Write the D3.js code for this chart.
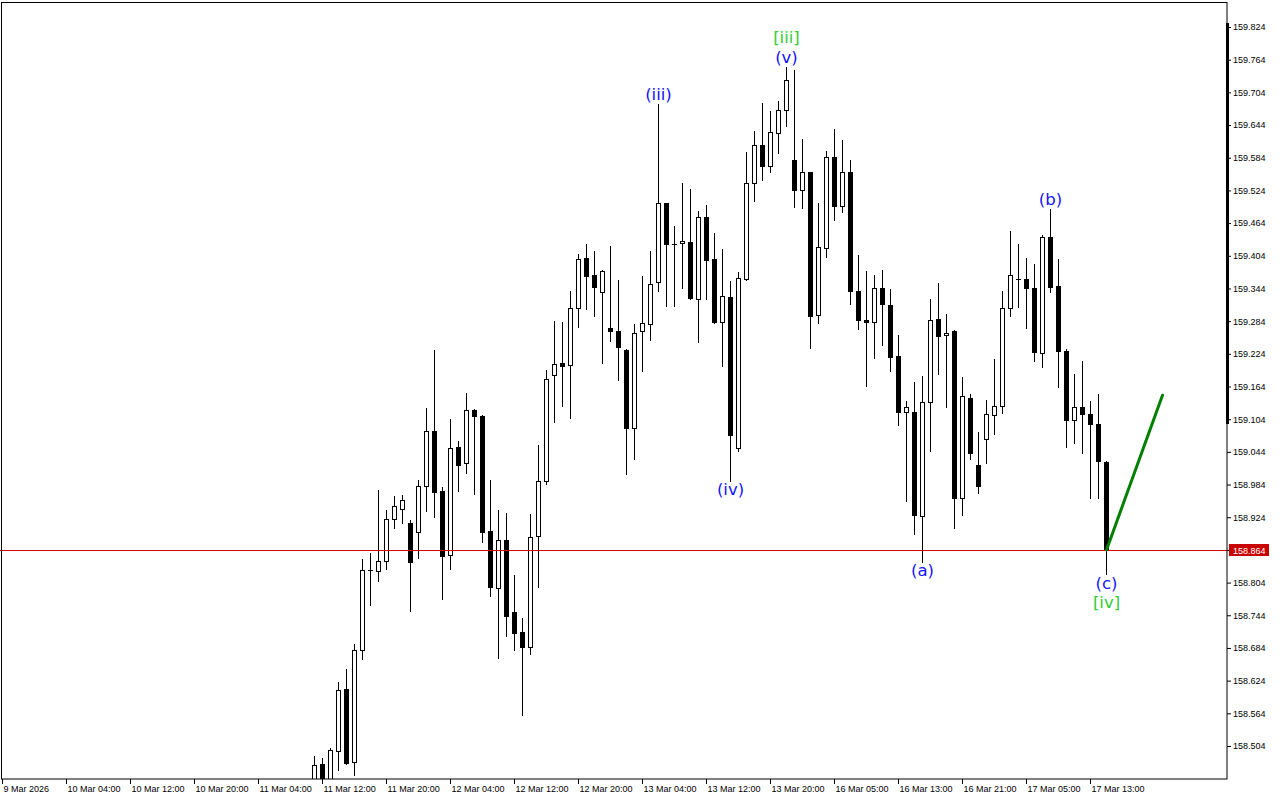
<!DOCTYPE html>
<html><head><meta charset="utf-8">
<script src="https://cdn.jsdelivr.net/npm/d3@7"></script>
<style>html,body{margin:0;padding:0;background:#fff;overflow:hidden}</style>
</head><body><svg id="c" width="1280" height="800"></svg>
<script>
// ---- DATA (H1 candles, bar index counted from 9 Mar 2026 20:00) ----
const firstBar = 39;
const opens = [158.43,158.471,158.43,158.494,158.608,158.475,158.681,158.828,158.826,158.843,
158.920,158.940,158.913,158.896,158.981,159.082,158.972,158.854,159.053,159.023,
159.120,159.109,158.898,158.794,158.882,158.750,158.713,158.685,158.889,158.990,
159.185,159.207,159.203,159.308,159.399,159.369,159.337,159.271,159.266,159.231,
159.088,159.265,159.278,159.355,159.500,159.426,159.427,159.429,159.324,159.475,
159.398,159.283,159.328,159.051,159.362,159.537,159.607,159.568,159.629,159.671,
159.580,159.524,159.557,159.295,159.418,159.585,159.495,159.557,159.339,159.287,
159.282,159.344,159.314,159.220,159.118,159.117,158.926,159.136,159.288,159.258,
159.266,158.959,159.142,159.019,159.067,159.111,159.128,159.309,159.361,159.361,
159.344,159.225,159.438,159.348,159.229,159.102,159.126,159.113,159.096,159.025];
const highs = [158.486,158.482,158.500,158.621,158.645,158.691,158.847,158.858,158.974,158.937,
158.963,158.965,158.918,158.992,159.125,159.231,158.979,159.104,159.064,159.152,
159.122,159.112,158.992,158.937,158.932,158.818,158.739,158.930,159.057,159.194,
159.285,159.282,159.339,159.408,159.426,159.413,159.378,159.422,159.360,159.233,
159.278,159.367,159.413,159.682,159.501,159.459,159.538,159.527,159.487,159.497,
159.446,159.416,159.358,159.374,159.595,159.633,159.684,159.670,159.689,159.750,
159.745,159.618,159.558,159.500,159.597,159.637,159.617,159.579,159.405,159.376,
159.369,159.378,159.343,159.259,159.137,159.172,159.183,159.325,159.354,159.297,
159.267,159.181,159.150,159.080,159.140,159.214,159.339,159.449,159.426,159.400,
159.389,159.443,159.490,159.398,159.232,159.187,159.211,159.137,159.150,159.027];
const lows = [158.40,158.42,158.42,158.46,158.471,158.45,158.664,158.763,158.807,158.829,
158.905,158.914,158.751,158.850,158.936,158.925,158.774,158.829,158.973,159.005,
158.967,158.879,158.780,158.666,158.706,158.681,158.561,158.672,158.796,158.985,
159.098,159.129,159.107,159.274,159.307,159.294,159.208,159.248,159.176,159.004,
159.030,159.193,159.250,159.340,159.312,159.312,159.345,159.325,159.246,159.325,
159.281,159.202,158.991,159.046,159.359,159.505,159.544,159.558,159.593,159.643,
159.494,159.492,159.235,159.280,159.402,159.469,159.485,159.315,159.269,159.165,
159.217,159.241,159.193,159.093,158.954,158.894,158.842,159.046,159.187,159.127,
158.905,158.928,159.030,158.969,159.024,159.077,159.115,159.294,159.310,159.272,
159.210,159.200,159.338,159.164,159.053,159.061,159.041,158.960,158.960,158.819];
const closes = [158.469,158.43,158.496,158.606,158.473,158.681,158.828,158.828,158.843,158.920,
158.944,158.955,158.841,158.981,159.082,158.971,158.853,159.051,159.020,159.120,
159.109,158.897,158.795,158.882,158.743,158.712,158.686,158.887,158.990,159.177,
159.205,159.202,159.308,159.398,159.366,159.347,159.376,159.265,159.237,159.088,
159.263,159.280,159.352,159.500,159.426,159.426,159.432,159.326,159.475,159.397,
159.282,159.330,159.075,159.363,159.537,159.607,159.568,159.632,159.671,159.726,
159.524,159.557,159.294,159.420,159.585,159.495,159.557,159.340,159.286,159.282,
159.344,159.316,159.219,159.118,159.126,158.929,159.135,159.286,159.257,159.263,
158.960,159.146,159.041,158.981,159.113,159.128,159.309,159.368,159.361,159.345,
159.227,159.438,159.347,159.230,159.102,159.126,159.113,159.095,159.028,158.864];

const currentPrice = 158.864;
const yTicks = [159.824,159.764,159.704,159.644,159.584,159.524,159.464,159.404,159.344,159.284,
159.224,159.164,159.104,159.044,158.984,158.924,158.864,158.804,158.744,158.684,158.624,158.564,158.504];
const xTickBars = [0,8,16,24,32,40,48,56,64,72,80,88,96,104,112,120,128,136];
const xTickLabels = ["9 Mar 2026","10 Mar 04:00","10 Mar 12:00","10 Mar 20:00","11 Mar 04:00",
"11 Mar 12:00","11 Mar 20:00","12 Mar 04:00","12 Mar 12:00","12 Mar 20:00","13 Mar 04:00",
"13 Mar 12:00","13 Mar 20:00","16 Mar 05:00","16 Mar 13:00","16 Mar 21:00","17 Mar 05:00","17 Mar 13:00"];

// wave labels
const labelBars   = [82, 98, 98, 91, 115, 131, 138, 138];
const labelTexts  = ["(iii)", "(v)", "[iii]", "(iv)", "(a)", "(b)", "(c)", "[iv]"];
const labelDegree = ["minor","minor","major","minor","minor","minor","minor","major"];
const labelSide   = ["above","above","above","below","below","above","below","below"];
const labelStack  = [0, 0, 1, 0, 0, 0, 0, 1];

// projection line
const projBars = [138, 145];
const projPrices = [158.864, 159.148];

// ---- DRAW ----
const svg = d3.select("#c");
const W = 1280, H = 800;
const plotRight = 1227, plotTop = 2, plotBottom = 779;

const x = d3.scaleLinear().domain([0, 153.125]).range([2, 1227]);
const y = d3.scaleLinear().domain([158.504, 159.824]).range([746, 27]);
const FONT = "'Liberation Sans', Arial, sans-serif";

svg.append("rect").attr("width", W).attr("height", H).attr("fill", "#fff");

svg.append("defs").append("clipPath").attr("id", "plot")
  .append("rect").attr("x", 0).attr("y", plotTop).attr("width", plotRight).attr("height", plotBottom - plotTop);

const g = svg.append("g").attr("clip-path", "url(#plot)");

// candles
const candles = opens.map((o, i) => ({ bar: firstBar + i, o, h: highs[i], l: lows[i], c: closes[i] }));
const cg = g.append("g");
candles.forEach(d => {
  const X = x(d.bar);
  cg.append("line")
    .attr("x1", X + 0.5).attr("x2", X + 0.5)
    .attr("y1", Math.round(y(d.h))).attr("y2", Math.round(y(d.l)) + 1)
    .attr("stroke", "#000").attr("stroke-width", 1);
  const top = Math.round(y(Math.max(d.o, d.c)));
  const bot = Math.round(y(Math.min(d.o, d.c)));
  if (bot - top < 1) {
    cg.append("line").attr("x1", X - 2).attr("x2", X + 3)
      .attr("y1", top + 0.5).attr("y2", top + 0.5).attr("stroke", "#000");
  } else {
    cg.append("rect")
      .attr("x", X - 1.5).attr("y", top + 0.5)
      .attr("width", 4).attr("height", bot - top)
      .attr("fill", d.c >= d.o ? "#fff" : "#000")
      .attr("stroke", "#000").attr("stroke-width", 1);
  }
});

// current price line
const py = Math.round(y(currentPrice)) + 0.5;
g.append("line").attr("x1", 0).attr("x2", plotRight).attr("y1", py).attr("y2", py)
  .attr("stroke", "#e00000").attr("stroke-width", 1);

// projection line
g.append("line")
  .attr("x1", x(projBars[0]) + 0.5).attr("y1", y(projPrices[0]))
  .attr("x2", x(projBars[1]) + 0.5).attr("y2", y(projPrices[1]))
  .attr("stroke", "#008000").attr("stroke-width", 3).attr("stroke-linecap", "round");

// wave labels
labelTexts.forEach((t, i) => {
  const idx = labelBars[i] - firstBar;
  const X = x(labelBars[i]) + 0.5;
  let cy;
  if (labelSide[i] === "above") cy = y(highs[idx]) - 9.5 - labelStack[i] * 20;
  else cy = y(lows[idx]) + 9 + labelStack[i] * 19;
  g.append("text").attr("x", X).attr("y", cy + 5.5)
    .attr("text-anchor", "middle")
    .attr("font-family", "'DejaVu Sans', Verdana, sans-serif")
    .attr("font-size", 16.5)
    .attr("fill", labelDegree[i] === "major" ? "#32cd32" : "#1414ff")
    .text(t);
});

// frame
svg.append("rect").attr("x", 1.5).attr("y", 2.5).attr("width", plotRight - 1.5).attr("height", plotBottom - 2.5)
  .attr("fill", "none").attr("stroke", "#000").attr("stroke-width", 1);
svg.append("rect").attr("x", 1226).attr("y", 23).attr("width", 3).attr("height", 401).attr("fill", "#000");

// y axis
const yAxis = svg.append("g").attr("transform", `translate(${plotRight},0)`)
  .call(d3.axisRight(y).tickValues(yTicks).tickSize(4).tickFormat(d3.format(".3f")));
yAxis.select(".domain").remove();
yAxis.selectAll("text").attr("font-family", FONT).attr("font-size", 9).attr("fill", "#000").attr("x", 6);
yAxis.selectAll("line").attr("stroke", "#000");

// x axis
const xAxis = svg.append("g").attr("transform", `translate(0,${plotBottom})`)
  .call(d3.axisBottom(x).tickValues(xTickBars).tickSize(5).tickFormat((d, i) => xTickLabels[i]));
xAxis.select(".domain").remove();
xAxis.selectAll("text").attr("font-family", FONT).attr("font-size", 9).attr("fill", "#000")
  .attr("text-anchor", "start").attr("x", 1).attr("y", 7);
xAxis.selectAll("line").attr("stroke", "#000");

// current price tag
svg.append("rect").attr("x", 1229).attr("y", py - 6.5).attr("width", 40).attr("height", 12).attr("fill", "#c80000");
svg.append("text").attr("x", 1233).attr("y", py + 3).attr("font-family", FONT).attr("font-size", 9)
  .attr("fill", "#fff").text(d3.format(".3f")(currentPrice));
</script></body></html>
